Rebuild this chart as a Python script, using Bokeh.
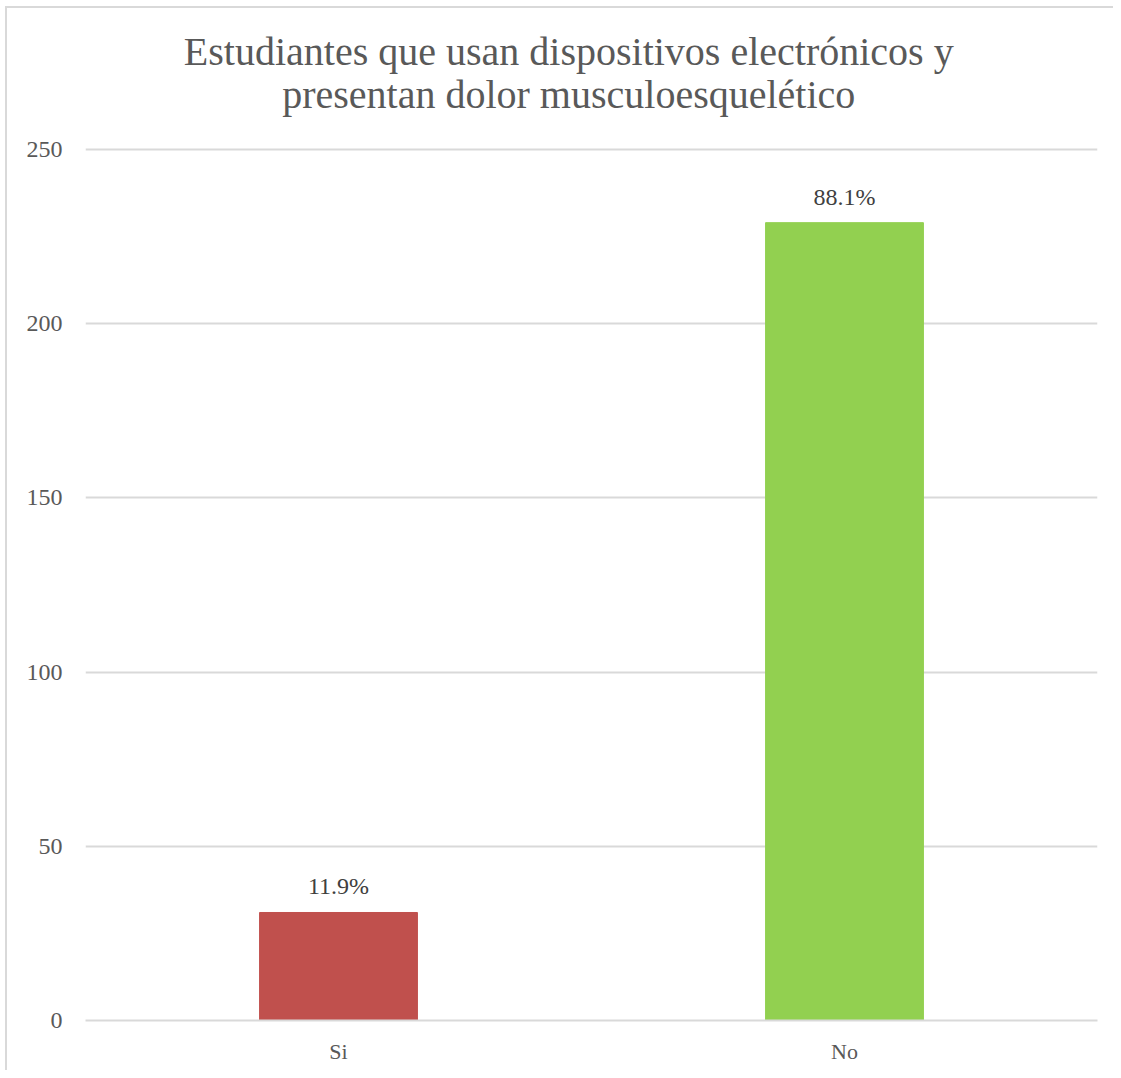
from bokeh.plotting import figure
from bokeh.models import ColumnDataSource, FactorRange, Range1d, LabelSet, FixedTicker, Label
from bokeh.embed import file_html
from bokeh.resources import INLINE

categories = ["Si", "No"]
counts = [31, 229]
pct_labels = ["11.9%", "88.1%"]
colors = ["#C0504D", "#92D050"]
y_ticks = [0, 50, 100, 150, 200, 250]
title_lines = ["Estudiantes que usan dispositivos electrónicos y",
               "presentan dolor musculoesquelético"]

src = ColumnDataSource(dict(cat=categories, val=counts, lab=pct_labels, col=colors))

# axis area 0..250 spans 871 px; frame extended upward to hold the title
axis_px = 871
frame_h = 1012
y_top = y_ticks[-1] * frame_h / axis_px

p = figure(x_range=FactorRange(*categories, range_padding=0), y_range=Range1d(0, y_top),
           frame_width=1012, frame_height=frame_h,
           min_border_left=78, min_border_right=16, min_border_top=0, min_border_bottom=50,
           output_backend="svg", toolbar_location=None,
           styles={"margin-left": "5px", "margin-top": "6px",
                   "border-left": "2px solid #D9D9D9", "border-top": "2px solid #D9D9D9"})

p.vbar(x="cat", top="val", width=0.312, color="col", source=src)
p.add_layout(LabelSet(x="cat", y="val", text="lab", source=src, text_align="center",
                      text_baseline="bottom", y_offset=13, text_font="Liberation Sans",
                      text_font_size="24px", text_color="#404040"))

# title: two centred lines above the top gridline
for line, dy in zip(title_lines, [98, 55]):
    p.add_layout(Label(x=0.955, y=y_ticks[-1], y_offset=dy, text=line, text_align="center",
                       text_baseline="alphabetic", text_font="Liberation Serif",
                       text_font_size="40px", text_color="#595959"))

p.outline_line_color = None
p.background_fill_color = "white"
p.border_fill_color = "white"

p.yaxis.ticker = FixedTicker(ticks=y_ticks)
p.yaxis.axis_line_color = None
p.yaxis.major_tick_line_color = None
p.yaxis.minor_tick_line_color = None
p.yaxis.major_label_standoff = 17
p.yaxis.major_label_text_font = "Liberation Serif"
p.yaxis.major_label_text_font_size = "24px"
p.yaxis.major_label_text_color = "#595959"

p.xaxis.axis_line_color = "#D9D9D9"
p.xaxis.axis_line_width = 2
p.xaxis.major_tick_line_color = None
p.xaxis.minor_tick_line_color = None
p.xaxis.major_label_standoff = 12
p.xaxis.major_label_text_font = "Liberation Serif"
p.xaxis.major_label_text_font_size = "22px"
p.xaxis.major_label_text_color = "#595959"

p.xgrid.grid_line_color = None
p.ygrid.grid_line_color = "#D9D9D9"
p.ygrid.grid_line_width = 2

open("out.html", "w").write(file_html(p, INLINE))
